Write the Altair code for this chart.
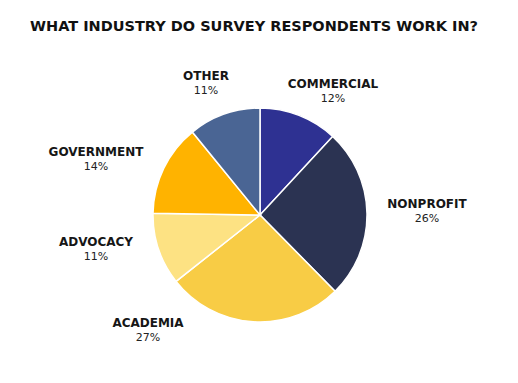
import altair as alt
import pandas as pd

title_text = "WHAT INDUSTRY DO SURVEY RESPONDENTS WORK IN?"
categories = ["COMMERCIAL", "NONPROFIT", "ACADEMIA", "ADVOCACY", "GOVERNMENT", "OTHER"]
values = [12, 26, 27, 11, 14, 11]
colors = ["#2e3192", "#2b3352", "#f8cc45", "#fde283", "#ffb300", "#4a6594"]

# label anchor positions (pixels inside the view)
label_x = [325, 419, 140, 88, 88, 198]
label_y = [76, 196, 314.5, 233.5, 143.5, 67.5]

df = pd.DataFrame({
    "industry": categories,
    "value": values,
    "order": list(range(len(categories))),
    "pct": [f"{v}%" for v in values],
    "lx": label_x,
    "ly": label_y,
})
df["ly2"] = df["ly"] + 15

W, H = 502, 367
CX, CY, R = 252, 207, 107

base = alt.Chart(df)

pie = base.mark_arc(radius=R, stroke="white", strokeWidth=1.5).encode(
    theta=alt.Theta("value:Q", stack=True),
    order=alt.Order("order:Q"),
    color=alt.Color("industry:N", scale=alt.Scale(domain=categories, range=colors), legend=None),
    x=alt.value(CX),
    y=alt.value(CY),
)

names = base.mark_text(font="DejaVu Sans", fontWeight="bold", fontSize=12, color="#161616",
                       baseline="middle", align="center").encode(
    x=alt.X("lx:Q", scale=None, axis=None),
    y=alt.Y("ly:Q", scale=None, axis=None),
    text="industry:N",
)

pcts = base.mark_text(font="DejaVu Sans", fontSize=11, color="#222222",
                      baseline="middle", align="center").encode(
    x=alt.X("lx:Q", scale=None, axis=None),
    y=alt.Y("ly2:Q", scale=None, axis=None),
    text="pct:N",
)

title = alt.Chart(pd.DataFrame({"t": [title_text]})).mark_text(
    font="DejaVu Sans", fontWeight="bold", fontSize=14.5, color="#111111",
    baseline="middle", align="center"
).encode(x=alt.value(246), y=alt.value(19), text="t:N")

chart = alt.layer(pie, names, pcts, title).properties(
    width=W, height=H, padding=0, autosize=alt.AutoSizeParams(type="none")
).configure_view(stroke=None)

chart.save("out.html", embed_options={"renderer": "svg", "actions": False})
